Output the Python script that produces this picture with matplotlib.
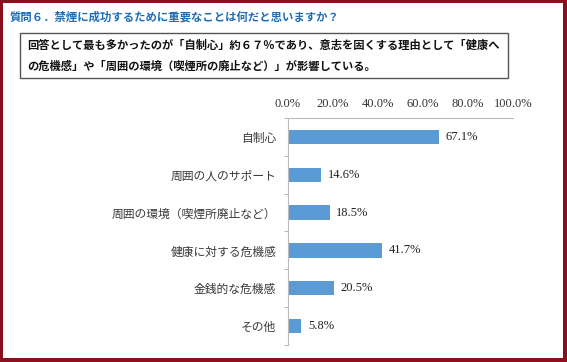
import matplotlib
matplotlib.use("Agg")
import matplotlib.pyplot as plt
from matplotlib.patches import Rectangle
import numpy as np

categories = ["自制心", "周囲の人のサポート", "周囲の環境（喫煙所廃止など）",
              "健康に対する危機感", "金銭的な危機感", "その他"]
values = [67.1, 14.6, 18.5, 41.7, 20.5, 5.8]
xticks = [0, 20, 40, 60, 80, 100]
title = "質問６．禁煙に成功するために重要なことは何だと思いますか？"
summary = ["回答として最も多かったのが「自制心」約６７％であり、意志を固くする理由として「健康へ",
           "の危機感」や「周囲の環境（喫煙所の廃止など）」が影響している。"]

JP = ["Noto Sans CJK JP", "DejaVu Sans"]
SERIF = ["Liberation Serif", "DejaVu Serif"]
W, H = 567, 362
fig = plt.figure(figsize=(W / 100, H / 100), dpi=100)
fig.patch.set_facecolor("#8B0F1E")

# white panel inside border
fig.patches.append(Rectangle((3 / W, 4 / H), (563 - 3) / W, (359 - 4) / H,
                             transform=fig.transFigure, facecolor="white",
                             edgecolor="none", zorder=-10))

fig.text(10 / W, 1 - 17 / H, title, family=JP, fontsize=8.2, fontweight="bold",
         color="#1F6DB4", va="center", ha="left")

fig.patches.append(Rectangle((20 / W, 1 - 78 / H), (508 - 20) / W, (78 - 33) / H,
                             transform=fig.transFigure, facecolor="white",
                             edgecolor="#555555", linewidth=1.0, zorder=-5))
fig.text(27 / W, 1 - 45 / H, summary[0], family=JP, fontsize=8.1, fontweight="bold",
         color="#111111", va="center", ha="left", zorder=2)
fig.text(27 / W, 1 - 66 / H, summary[1], family=JP, fontsize=8.1, fontweight="bold",
         color="#111111", va="center", ha="left", zorder=2)

ax = fig.add_axes([288 / W, 1 - 345 / H, (513 - 288) / W, (345 - 118) / H])
ax.set_zorder(5)
ax.set_facecolor("none")
y = np.arange(len(categories))
ax.barh(y, values, height=0.38, color="#5B9BD5")
ax.set_ylim(len(categories) - 0.5, -0.5)
ax.set_xlim(0, 100)

for yi, v in zip(y, values):
    ax.text(v + 3, yi, f"{v:.1f}%", family=SERIF, fontsize=9, va="center",
            ha="left", color="#222222")

ax.xaxis.tick_top()
ax.set_xticks(xticks)
ax.set_xticklabels([f"{t:.1f}%" for t in xticks], family=SERIF, fontsize=9,
                   color="#333333")
ax.tick_params(axis="x", length=0, pad=6)

ax.set_yticks(y)
ax.set_yticklabels(categories, family=JP, fontsize=8.5, color="#3A3A3A")
ax.tick_params(axis="y", which="major", length=0, pad=8.5)
ax.set_yticks(np.arange(-0.5, len(categories), 1.0), minor=True)
ax.tick_params(axis="y", which="minor", length=3, color="#AAAAAA", direction="out")

for s in ["right", "bottom"]:
    ax.spines[s].set_visible(False)
ax.spines["top"].set_color("#BBBBBB")
ax.spines["left"].set_color("#BBBBBB")

fig.savefig("out.png", dpi=100, facecolor=fig.get_facecolor())
